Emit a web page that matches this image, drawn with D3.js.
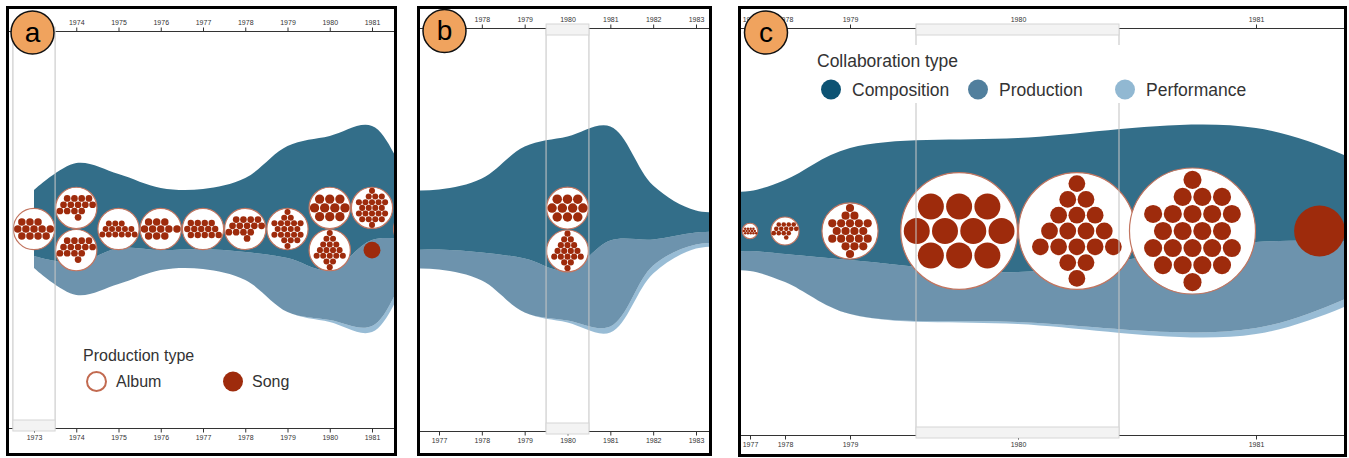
<!DOCTYPE html>
<html>
<head>
<meta charset="utf-8">
<script src="https://cdn.jsdelivr.net/npm/d3@7"></script>
<style>
  body { margin: 0; background: #fff; }
  svg { display: block; font-family: "Liberation Sans", Arial, sans-serif; }
</style>
</head>
<body>
<svg id="chart" width="1349" height="458"></svg>
<script>
// collaborations per year, one list per stream layer
const years       = [1973, 1974, 1975, 1976, 1977, 1978, 1979, 1980, 1981, 1982, 1983, 1984];
const composition = [33, 50, 37, 31, 30, 37, 56, 67, 57, 27, 11, 10];
const production  = [6, 16, 18, 10, 10, 14, 27, 25, 43, 13, 6, 6];
const performance = [0, 0, 0, 0, 0, 0, 0, 1, 3, 4, 2, 2];

// releases: albums (track dots in hex rows) and songs
const albumYears = [1973, 1974, 1974, 1975, 1976, 1977, 1978, 1979, 1980, 1980, 1981, 1982];
const albumTracks = [
  ["  o o o", " o o o o o", "  o o o o"],
  ["   o o o o", "  o o o o o", " o o o o", "      o"],
  ["   o o o o", "  o o o o o", " o o o o", "      o"],
  ["  o o o", " o o o o o", "o o o o o o"],
  ["   o o o", "  o o o o o", "   o o o"],
  [" o o o o", "o o o o o", " o o o o o"],
  ["   o o o o", "  o o o o o", " o o o o", "      o"],
  ["    o", "   o o", "o o o o o", " o o o o", "o o o o o", "   o o o", "    o"],
  [" o o o", "o o o o", " o o o"],
  ["    o", "   o o", "  o o o", " o o o o", "o o o o o", "   o o", "    o"],
  ["    o", "   o o o", "o o o o o", " o o o o", "o o o o o", " o o o o", "    o"],
  ["  o o o", " o o o o", "  o o o"]
];
const songYears = [1981];

// tick labels (top axis skips the year hidden under the panel letter)
const ticksA = [1973, 1974, 1975, 1976, 1977, 1978, 1979, 1980, 1981];
const topTicksA = [1974, 1975, 1976, 1977, 1978, 1979, 1980, 1981];
const ticksB = [1977, 1978, 1979, 1980, 1981, 1982, 1983];
const topTicksB = [1978, 1979, 1980, 1981, 1982, 1983];
const ticksC = [1977, 1978, 1979, 1980, 1981];

const layerKeys = ["Performance", "Production", "Composition"];
const layerColor = { Composition: "#004a6b", Production: "#487898", Performance: "#7eabca" };

const svg = d3.select("#chart");
svg.append("rect").attr("width", 1349).attr("height", 458).attr("fill", "#fff");

const table = years.map((y, i) => ({
  year: y, Composition: composition[i], Production: production[i], Performance: performance[i]
}));
const series = d3.stack().keys(layerKeys).offset(d3.stackOffsetSilhouette)(table);

// release items, albums before songs inside a year
const items = albumYears.map((y, i) => ({ year: y, type: "album", rows: albumTracks[i] }))
  .concat(songYears.map(y => ({ year: y, type: "song" })));

const panels = [
  { name: "a", x0: 9, x1: 394, y0: 9, y1: 453, top: 31, bottom: 428, mid: 229,
    x: d3.scaleLinear().domain([1973, 1981]).range([34, 372]),
    ticks: ticksA, topTicks: topTicksA, layout: "stack", show: null, band: 1973, lab: [32.5, 32.5] },
  { name: "b", x0: 420, x1: 709, y0: 9, y1: 453, top: 28, bottom: 431, mid: 229.5,
    x: d3.scaleLinear().domain([1977, 1983]).range([439, 696]),
    ticks: ticksB, topTicks: topTicksB, layout: "stack", show: [1980], band: 1980, lab: [444.5, 31] },
  { name: "c", x0: 741, x1: 1344, y0: 9, y1: 454, top: 28, bottom: 435, mid: 231,
    // fisheye around 1980, as a polylinear scale
    x: d3.scaleLinear()
      .domain([1976, 1977, 1978, 1979, 1979.5, 1980, 1980.5, 1981, 1982, 1984])
      .range([728, 750, 785, 850, 916, 1018, 1119, 1256, 1420, 1560]),
    ticks: ticksC, topTicks: ticksC, layout: "row", show: null, band: 1980, lab: [766, 32.5] }
];

const defs = svg.append("defs");

panels.forEach(p => {
  defs.append("clipPath").attr("id", "clip-" + p.name)
    .append("rect").attr("x", p.x0).attr("y", p.y0)
    .attr("width", p.x1 - p.x0).attr("height", p.y1 - p.y0);

  const g = svg.append("g").attr("clip-path", "url(#clip-" + p.name + ")");
  const x = p.x;
  const y = d3.scaleLinear().domain([-60, 60]).range([p.mid + 120, p.mid - 120]);

  const area = d3.area()
    .x(d => x(d.data.year))
    .y0(d => y(d[0]))
    .y1(d => y(d[1]))
    .curve(d3.curveCatmullRom.alpha(0.5));

  g.selectAll(".layer")
    .data(series)
    .enter()
    .append("path")
    .attr("class", "layer")
    .attr("d", area)
    .attr("fill", d => layerColor[d.key])
    .attr("fill-opacity", 0.8);

  // place releases
  const shown = items.filter(d => !p.show || p.show.includes(d.year));
  const byYear = d3.group(shown, d => d.year);
  const placed = [];
  byYear.forEach((list, yr) => {
    const span = x(yr + 0.5) - x(yr - 0.5);
    const R = p.layout === "stack" ? span / 2 : span * 0.29;
    list.forEach((d, i) => {
      const off = (i - (list.length - 1) / 2) * 2 * R;
      placed.push({
        d: d, R: R,
        cx: p.layout === "stack" ? x(yr) : x(yr) + off,
        cy: p.layout === "stack" ? p.mid + off : p.mid
      });
    });
  });

  const rel = g.selectAll(".release")
    .data(placed)
    .enter()
    .append("g")
    .attr("class", "release")
    .attr("transform", d => "translate(" + d.cx + "," + d.cy + ")");

  rel.filter(d => d.d.type === "song")
    .append("circle")
    .attr("r", d => d.R * 0.4)
    .attr("fill", "#9e2b0c");

  const albums = rel.filter(d => d.d.type === "album");
  albums.append("circle")
    .attr("r", d => d.R - 0.5)
    .attr("fill", "#fff")
    .attr("stroke", "#c27560")
    .attr("stroke-width", 1.2);

  albums.each(function(a) {
    const pts = [];
    a.d.rows.forEach((row, r) => {
      for (let c = 0; c < row.length; c++) if (row[c] === "o") pts.push([c, r]);
    });
    const cu = (d3.min(pts, q => q[0]) + d3.max(pts, q => q[0])) / 2;
    const cv = (d3.min(pts, q => q[1]) + d3.max(pts, q => q[1])) / 2;
    const unit = pts.map(q => [(q[0] - cu) * 0.5, (q[1] - cv) * 0.866]);
    const maxDist = d3.max(unit, q => Math.hypot(q[0], q[1]));
    const step = a.R * 0.96 / (maxDist + 0.5);
    d3.select(this).selectAll(".dot")
      .data(unit)
      .enter()
      .append("circle")
      .attr("class", "dot")
      .attr("cx", q => q[0] * step)
      .attr("cy", q => q[1] * step)
      .attr("r", step * 0.46)
      .attr("fill", "#9e2b0c");
  });

  // highlighted year band
  const bx0 = x(p.band - 0.5), bx1 = x(p.band + 0.5);
  g.selectAll(".bandline")
    .data([bx0, bx1])
    .enter()
    .append("line")
    .attr("x1", d => d).attr("x2", d => d)
    .attr("y1", p.top).attr("y2", p.bottom)
    .attr("stroke", "#c4c4c4")
    .attr("stroke-opacity", 0.7)
    .attr("stroke-width", 1.5);

  // legends
  if (p.name === "a") {
    const lg = g.append("g").attr("fill", "#333").style("font-size", "16px");
    lg.append("text").attr("x", 83).attr("y", 361).text("Production type");
    lg.append("circle").attr("cx", 96.5).attr("cy", 381.5).attr("r", 9.5)
      .attr("fill", "#fff").attr("stroke", "#c26a50").attr("stroke-width", 2);
    lg.append("text").attr("x", 116).attr("y", 387).text("Album");
    lg.append("circle").attr("cx", 233).attr("cy", 381.5).attr("r", 10).attr("fill", "#9e2b0c");
    lg.append("text").attr("x", 252).attr("y", 387).text("Song");
  }
  if (p.name === "c") {
    const lg = g.append("g").attr("fill", "#333").style("font-size", "17.5px");
    lg.append("rect").attr("x", 806).attr("y", 45).attr("width", 455).attr("height", 58).attr("fill", "#fff");
    lg.append("text").attr("x", 817).attr("y", 67).text("Collaboration type");
    const keys = ["Composition", "Production", "Performance"];
    const pos = [831, 978, 1125];
    keys.forEach((k, i) => {
      lg.append("circle").attr("cx", pos[i]).attr("cy", 89.5).attr("r", 10)
        .attr("fill", layerColor[k]).attr("fill-opacity", k === "Performance" ? 0.85 : 0.95);
      lg.append("text").attr("x", pos[i] + 21).attr("y", 95.5).text(k);
    });
  }

  // axes
  [p.top, p.bottom].forEach(ay => {
    g.append("line").attr("x1", p.x0).attr("x2", p.x1)
      .attr("y1", ay + 0.5).attr("y2", ay + 0.5)
      .attr("stroke", "#333").attr("stroke-width", 1);
  });
  const fmt = d3.format("d");
  const axTop = g.append("g").attr("transform", "translate(0," + (p.top + 0.5) + ")")
    .call(d3.axisTop(x).tickValues(p.topTicks).tickFormat(fmt).tickSize(4).tickPadding(3).tickSizeOuter(0));
  const axBot = g.append("g").attr("transform", "translate(0," + (p.bottom + 0.5) + ")")
    .call(d3.axisBottom(x).tickValues(p.ticks).tickFormat(fmt).tickSize(4).tickPadding(3).tickSizeOuter(0));
  [axTop, axBot].forEach(ax => {
    ax.select(".domain").remove();
    ax.attr("font-size", 7).attr("font-family", "'Liberation Sans', Arial, sans-serif").attr("color", "#333");
  });

  // band handles on the axes
  g.append("rect").attr("x", bx0).attr("y", p.top - 4).attr("width", bx1 - bx0).attr("height", 11)
    .attr("fill", "#f3f3f3").attr("stroke", "#d6d6d6");
  g.append("rect").attr("x", bx0).attr("y", p.bottom - 8).attr("width", bx1 - bx0).attr("height", 11)
    .attr("fill", "#f3f3f3").attr("stroke", "#d6d6d6");

  // panel letter
  svg.append("circle").attr("cx", p.lab[0]).attr("cy", p.lab[1]).attr("r", 21.5)
    .attr("fill", "#f0a35e").attr("stroke", "#111").attr("stroke-width", 1.5);
  svg.append("text").attr("x", p.lab[0]).attr("y", p.lab[1] + 9)
    .attr("text-anchor", "middle").style("font-size", "28px").attr("fill", "#000")
    .text(p.name);

  // frame
  svg.append("rect").attr("x", p.x0 - 1.5).attr("y", p.y0 - 1.5)
    .attr("width", p.x1 - p.x0 + 3).attr("height", p.y1 - p.y0 + 3)
    .attr("fill", "none").attr("stroke", "#000").attr("stroke-width", 3);
});
</script>
</body>
</html>
